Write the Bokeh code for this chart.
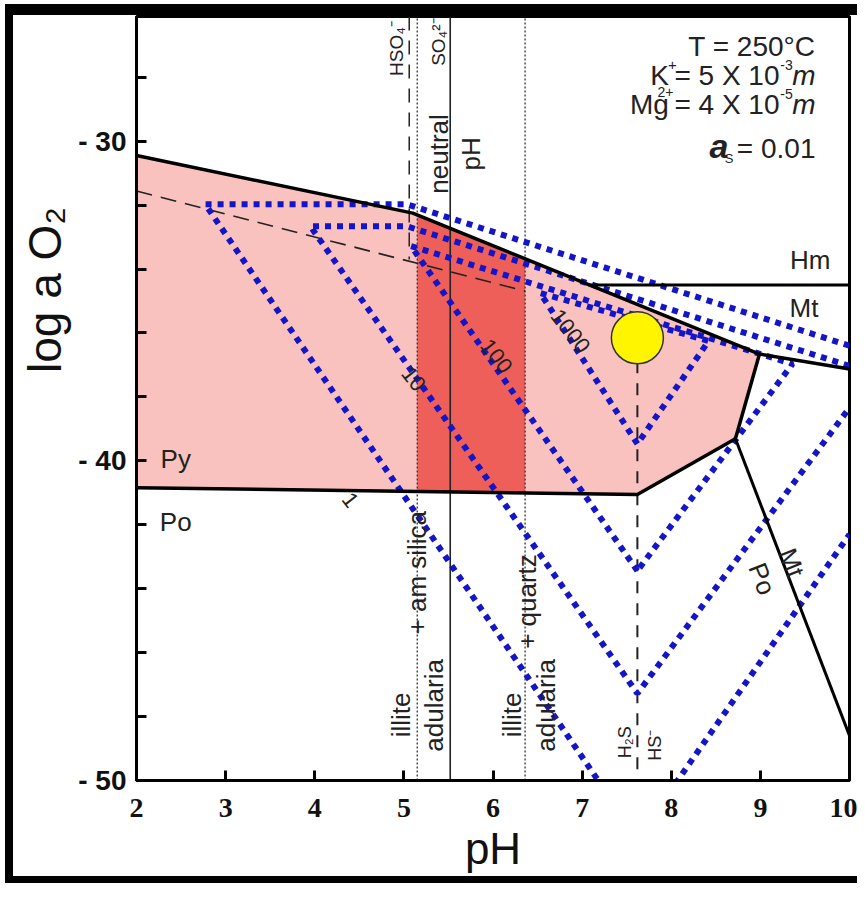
import math
from bokeh.plotting import figure
from bokeh.models import FixedTicker
from bokeh.core.properties import value
from bokeh.embed import file_html
from bokeh.resources import INLINE

# ---------------- data (pH, log aO2) ----------------
x_ticks = [2, 3, 4, 5, 6, 7, 8, 9, 10]
y_ticks = [-50, -48, -46, -44, -42, -40, -38, -36, -34, -32, -30, -28]
y_tick_labels = {-30: "- 30", -40: "- 40", -50: "- 50"}

# pyrite stability field (pink)
py_ph = [2.0, 5.1, 8.99, 8.72, 7.62, 2.0]
py_lo = [-30.45, -32.25, -36.66, -39.31, -41.05, -40.84]

# favourable zone (dark red) between illite/adularia boundaries
zone_ph = [5.15, 6.36, 6.36, 5.15]
zone_lo = [-32.31, -33.68, -41.0, -40.96]

# solid mineral boundaries
upper_ph = [2.0, 5.1, 8.99, 10.0]
upper_lo = [-30.45, -32.25, -36.66, -37.13]
lower_ph = [2.0, 7.62, 8.72, 8.99]
lower_lo = [-40.84, -41.05, -39.31, -36.66]
hm_mt_ph = [7.07, 10.0]
hm_mt_lo = [-34.5, -34.5]
mt_po_ph = [8.72, 10.0]
mt_po_lo = [-39.31, -48.6]

# dashed aqueous sulfur boundary
sulf_ph = [2.0, 6.36]
sulf_lo = [-31.56, -34.69]

# vertical boundaries
hso4_ph = 5.06
hso4_lo = [-26.1, -33.7]
ill_am_ph = 5.15
neutral_ph = 5.52
ill_qz_ph = 6.36
h2s_ph = 7.62
h2s_lo = [-36.2, -50.0]

# sample point
pt_ph = [7.62]
pt_lo = [-36.15]

# blue dotted solubility contours (ppb)
c1_ph = [10.0, 5.03, 2.77, 7.62, 10.0]
c1_lo = [-36.4, -31.97, -31.97, -51.8, -42.3]
c10_ph = [10.0, 5.03, 3.95, 7.62, 10.0]
c10_lo = [-37.03, -32.66, -32.66, -47.28, -38.34]
c100_ph = [7.62, 5.08, 9.36, 7.62]
c100_lo = [-43.44, -33.28, -36.97, -43.44]
c1000_ph = [7.62, 6.53, 8.42, 7.62]
c1000_lo = [-39.47, -34.75, -36.25, -39.47]

FONT = "Liberation Sans"

p = figure(width=852, height=879, x_range=(2, 10), y_range=(-50, -26.1),
           output_backend="svg", toolbar_location=None,
           min_border_left=123, min_border_right=16, min_border_top=1,
           min_border_bottom=114)
p.styles = {"border-left": "8px solid black", "border-top": "11px solid black",
            "border-bottom": "7px solid black", "margin-left": "5px", "margin-top": "4px"}
p.xgrid.visible = False
p.ygrid.visible = False
p.outline_line_color = "black"
p.outline_line_width = 3

# areas
p.patch(py_ph, py_lo, fill_color="#F9C2BF", line_color=None)
p.patch(zone_ph, zone_lo, fill_color="#EF5F5A", line_color=None)

# vertical thin lines
p.line([ill_am_ph, ill_am_ph], [-50, -26.1], line_color="#333333", line_width=1.3, line_dash="2 2")
p.line([ill_qz_ph, ill_qz_ph], [-50, -26.1], line_color="#333333", line_width=1.3, line_dash="2 2")
p.line([neutral_ph, neutral_ph], [-50, -26.1], line_color="#222222", line_width=1.6)
p.line([hso4_ph, hso4_ph], hso4_lo, line_color="#222222", line_width=1.5, line_dash="14 10")
p.line([h2s_ph, h2s_ph], h2s_lo, line_color="#222222", line_width=2, line_dash="12 10")
p.line(sulf_ph, sulf_lo, line_color="#222222", line_width=1.6, line_dash="16 9")

# blue contours
for xs, ys in [(c1_ph, c1_lo), (c10_ph, c10_lo), (c100_ph, c100_lo), (c1000_ph, c1000_lo)]:
    p.line(xs, ys, line_color="#1414C8", line_width=6, line_dash="6 6")

# mineral boundaries
p.line(upper_ph, upper_lo, line_color="black", line_width=3.5)
p.line(lower_ph, lower_lo, line_color="black", line_width=3.5)
p.line(hm_mt_ph, hm_mt_lo, line_color="black", line_width=3)
p.line(mt_po_ph, mt_po_lo, line_color="black", line_width=3)

p.scatter(pt_ph, pt_lo, size=52, fill_color="#FFF500", line_color="#333333", line_width=1.5)

def txt(x, y, s, size=26, angle=0.0, align="center", style="normal", xo=0, yo=0, color="#222222"):
    p.text([x], [y], text=[s], text_font=value(FONT), text_font_size=f"{size}px",
           text_align=align, text_baseline="middle", angle=angle, text_font_style=style,
           x_offset=xo, y_offset=yo, text_color=color)

# header block
txt(10, -27.03, "T = 250°C", 28, align="right", xo=-34)
txt(10, -27.94, "K\u2009= 5 X 10", 28, align="right", xo=-70)
txt(10, -27.94, "+", 15, xo=-177, yo=-10)
txt(10, -27.94, "-3", 14, xo=-63, yo=-10)
txt(10, -27.94, "m", 28, align="right", style="italic", xo=-34)
txt(10, -28.84, "Mg\u2009= 4 X 10", 28, align="right", xo=-70)
txt(10, -28.84, "2+", 14, xo=-184, yo=-12)
txt(10, -28.84, "-5", 14, xo=-63, yo=-10)
txt(10, -28.84, "m", 28, align="right", style="italic", xo=-34)
txt(10, -30.22, "= 0.01", 28, align="right", xo=-34)
txt(10, -30.22, "S", 13, align="right", xo=-116, yo=10)
txt(10, -30.22, "a", 34, align="right", style="bold italic", xo=-121, yo=-2)

# field names
txt(9.56, -33.72, "Hm", 26)
txt(9.49, -35.22, "Mt", 26)
txt(2.44, -39.94, "Py", 26)
txt(2.44, -41.9, "Po", 26)
ang = -math.atan2(295, 116)
txt(9.35, -43.19, "Mt", 26, angle=ang)
txt(9.02, -43.69, "Po", 26, angle=ang)

# vertical labels
v = math.pi / 2
txt(4.92, -27.1, "HSO₄⁻", 19, angle=v)
txt(5.39, -26.9, "SO₄²⁻", 19, angle=v)
txt(5.39, -30.4, "neutral", 26, angle=v)
txt(5.75, -30.4, "pH", 26, angle=v)
txt(4.97, -47.95, "illite", 26, angle=v)
txt(5.34, -47.65, "adularia", 26, angle=v)
txt(5.15, -43.5, "+ am silica", 26, angle=v)
txt(6.21, -47.95, "illite", 26, angle=v)
txt(6.59, -47.65, "adularia", 26, angle=v)
txt(6.38, -44.4, "+ quartz", 26, angle=v)
txt(7.48, -48.8, "H₂S", 18, angle=v)
txt(7.82, -48.9, "HS⁻", 18, angle=v)

# contour labels
ca = -math.radians(52)
txt(4.40, -41.22, "1", 22, angle=ca)
txt(5.11, -37.44, "10", 22, angle=ca)
txt(6.04, -36.72, "100", 22, angle=ca)
txt(6.87, -35.94, "1000", 22, angle=ca)

# axes
p.xaxis.ticker = FixedTicker(ticks=x_ticks)
p.yaxis.ticker = FixedTicker(ticks=y_ticks)
p.yaxis.major_label_overrides = {t: y_tick_labels.get(t, "") for t in y_ticks}
for ax in (p.xaxis[0], p.yaxis[0]):
    ax.axis_line_width = 3
    ax.major_tick_line_width = 3
    ax.major_tick_in = 10
    ax.major_tick_out = 0
    ax.minor_tick_line_color = None
    ax.major_label_text_font_style = "bold"
    ax.major_label_text_color = "#111111"
    ax.axis_label_text_font = FONT
    ax.axis_label_text_font_style = "normal"
    ax.axis_label_text_color = "#111111"
p.xaxis.major_label_text_font = "Liberation Sans Narrow"
p.xaxis.major_label_text_font_size = "28px"
p.xaxis.major_label_standoff = 18
p.yaxis.major_label_text_font = FONT
p.yaxis.major_label_text_font_size = "28px"
p.yaxis.major_label_standoff = 10
p.xaxis.axis_label = "pH"
p.xaxis.axis_label_text_font_size = "44px"
p.xaxis.axis_label_standoff = 4
p.yaxis.axis_label = "\u00a0" * 17 + "log a O₂"
p.yaxis.axis_label_text_font_size = "46px"
p.yaxis.axis_label_standoff = 4

open("out.html", "w").write(file_html(p, INLINE))
